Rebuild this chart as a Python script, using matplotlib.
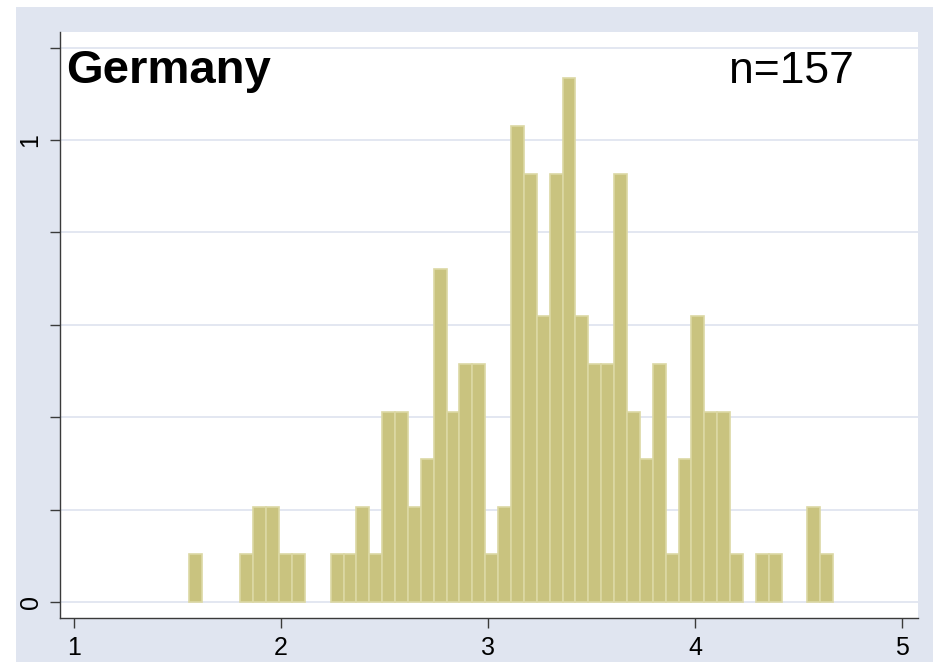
import numpy as np
import matplotlib.pyplot as plt

# histogram: 50 bins from 14/9 to 42/9, counts
bin_start = 14 / 9
bin_end = 42 / 9
counts = [1, 0, 0, 0, 1, 2, 2, 1, 1, 0,
          0, 1, 1, 2, 1, 4, 4, 2, 3, 7,
          4, 5, 5, 1, 2, 10, 9, 6, 9, 11,
          6, 5, 5, 9, 4, 3, 5, 1, 3, 6,
          4, 4, 1, 0, 1, 1, 0, 0, 2, 1]
country = "Germany"
n_label = "n=157"
x_ticks = [1, 2, 3, 4, 5]
y_ticks = [0, 0.2, 0.4, 0.6, 0.8, 1.0, 1.2]
y_ticklabels = ["0", "", "", "", "", "1", ""]

plt.rcParams["font.family"] = ["Liberation Sans", "DejaVu Sans"]
plt.rcParams["xtick.labelsize"] = 18
plt.rcParams["ytick.labelsize"] = 18

counts = np.array(counts)
edges = np.linspace(bin_start, bin_end, len(counts) + 1)
width = edges[1] - edges[0]
density = counts / (counts.sum() * width)
keep = counts > 0  # empty bins draw nothing

W, H = 933, 662
fig = plt.figure(figsize=(W / 100, H / 100), dpi=100)
fig.patch.set_facecolor("white")

# graph region background
bg_ax = fig.add_axes([16 / W, 0, 1 - 16 / W, 1 - 7 / H], zorder=0)
bg_ax.set_facecolor("#e0e5f0")
bg_ax.set_xticks([])
bg_ax.set_yticks([])
for s in bg_ax.spines.values():
    s.set_visible(False)

ax = fig.add_axes([59.5 / W, (H - 617.5) / H, (918 - 59.5) / W, (617.5 - 32) / H], zorder=1)
ax.set_facecolor("white")

ax.bar(edges[:-1][keep], density[keep], width=width, align="edge",
       color="#c9c37f", edgecolor="#dcd8a4", linewidth=1.2, zorder=3)

ax.set_xlim(0.931, 5.076)
ax.set_ylim(-0.0335, 1.2338)
ax.set_xticks(x_ticks)
ax.set_yticks(y_ticks)
ax.set_yticklabels(y_ticklabels, rotation=90, va="center")
ax.grid(axis="y", color="#e3e7f1", linewidth=1.4, zorder=1)
ax.set_axisbelow(True)

for s in ["top", "right"]:
    ax.spines[s].set_visible(False)
for s in ["left", "bottom"]:
    ax.spines[s].set_color("#3a3a3a")
    ax.spines[s].set_linewidth(1.0)
ax.tick_params(axis="both", direction="out", length=7.2, width=1, color="#3a3a3a")
ax.tick_params(axis="x", pad=6)
ax.tick_params(axis="y", pad=5)

fig.text(66 / W, (H - 83) / H, country, fontsize=34, fontweight="bold",
         ha="left", va="baseline", zorder=5)
fig.text(854 / W, (H - 83) / H, n_label, fontsize=32,
         ha="right", va="baseline", zorder=5)

fig.savefig("out.png", dpi=100)
